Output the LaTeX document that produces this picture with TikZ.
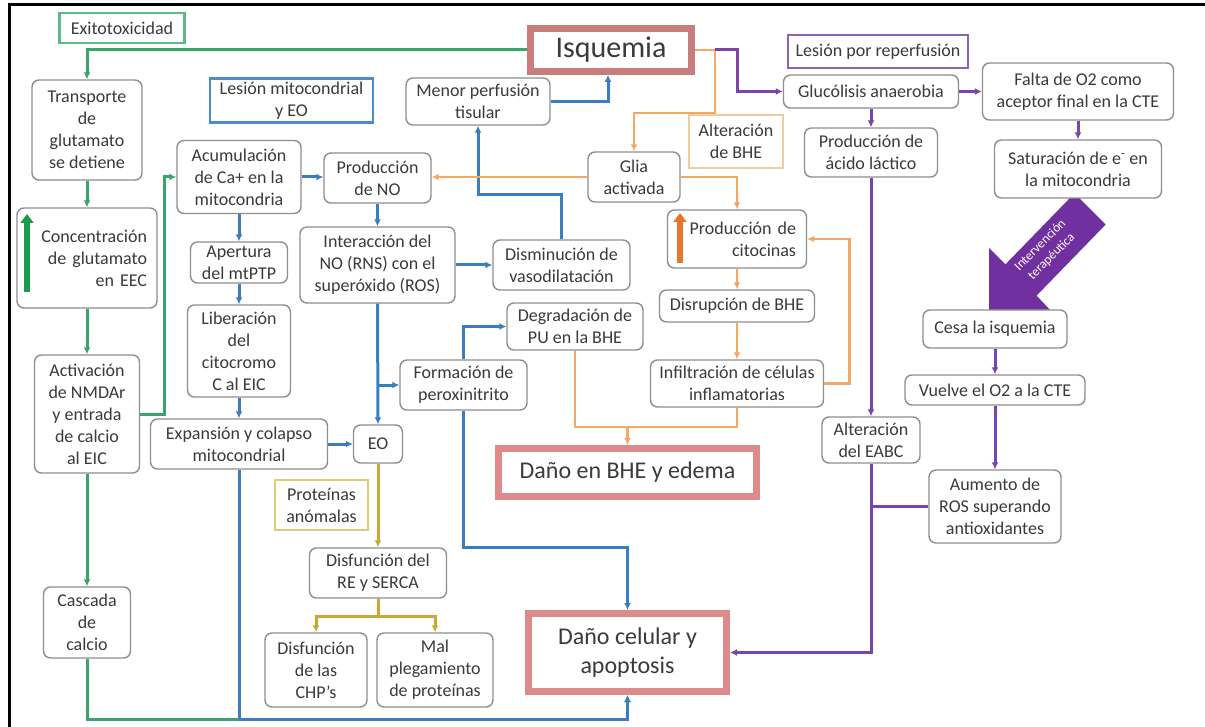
\documentclass[tikz,border=0pt]{standalone}
\usepackage{fontspec}
\setmainfont{Carlito}
\usetikzlibrary{arrows.meta,calc}
\definecolor{txt}{HTML}{3A3A3A}
\definecolor{boxgray}{HTML}{8E8E8E}
\definecolor{cgreen}{HTML}{3AA56B}
\definecolor{exgreen}{HTML}{5DBB8A}
\definecolor{cblue}{HTML}{3A7EC0}
\definecolor{lblue}{HTML}{4C8DC9}
\definecolor{corange}{HTML}{F3A865}
\definecolor{ltan}{HTML}{EDCBA3}
\definecolor{cpurple}{HTML}{7A45A8}
\definecolor{lpurple}{HTML}{8C63B5}
\definecolor{arrowpurple}{HTML}{7030A0}
\definecolor{cyellow}{HTML}{C9A935}
\definecolor{lyellow}{HTML}{DCCB78}
\definecolor{pinkb}{HTML}{DF8A8A}
\definecolor{isqred}{HTML}{C97C7C}
\definecolor{darkgreen}{HTML}{1F9A4C}
\definecolor{darkorange}{HTML}{E2782A}
\tikzset{
  gbox/.style={draw=boxgray, line width=1.4pt, rounded corners=7pt, fill=white, text=txt, align=center, font=\fontsize{18}{22}\selectfont, inner sep=1pt},
  lbox/.style={draw, line width=2.5pt, fill=white, text=txt, align=center, font=\fontsize{18}{22}\selectfont, inner sep=1pt},
  bigbox/.style={draw=pinkb, line width=7pt, fill=white, text=txt, align=center},
  tip/.style={-{Latex[length=7pt,width=7pt]}},
  gl/.style={draw=cgreen, line width=3pt},
  bl/.style={draw=cblue, line width=3pt},
  ol/.style={draw=corange, line width=2.6pt},
  pl/.style={draw=cpurple, line width=3pt},
  yl/.style={draw=cyellow, line width=3pt},
}
\begin{document}
\begin{tikzpicture}[x=1pt,y=-1pt]
\useasboundingbox (0,0) rectangle (1205,727);
\fill[white] (0,0) rectangle (1205,727);
\draw[line width=3pt, black] (9,727) -- (9,5) -- (1205,5);

% big intervention arrow
\fill[arrowpurple] (989,312) -- (989,248) -- (1005.4,264.4) -- (1074.4,193.4) -- (1105.6,224.6) -- (1036.6,295.6) -- (1052,312) -- cycle;
\node[rotate=45, text=white, align=center, font=\fontsize{13}{16}\selectfont] (interv) at (1046,251) {Intervención\\terapéutica};

% nodes
\node[lbox, draw=exgreen, minimum width=125pt, minimum height=30pt] (exito) at (122,28) {Exitotoxicidad};
\node[bigbox, draw=isqred, minimum width=161pt, minimum height=43pt, font=\fontsize{30}{34}\selectfont] (isq) at (611,50) {Isquemia};
\node[lbox, draw=lpurple, minimum width=180pt, minimum height=33pt] (lrep) at (878,51.5) {Lesión por reperfusión};
\node[gbox, minimum width=175pt, minimum height=33pt] (gluc) at (871,91.5) {Glucólisis anaerobia};
\node[gbox, minimum width=191pt, minimum height=57pt] (falta) at (1078,91.5) {Falta de O2 como\\aceptor final en la CTE};
\node[gbox, minimum width=167pt, minimum height=58pt] (satur) at (1078,169) {Saturación de e\textsuperscript{-} en\\la mitocondria};
\node[gbox, minimum width=110pt, minimum height=100pt] (transp) at (87,130) {Transporte\\de\\glutamato\\se detiene};
\node[gbox, minimum width=140pt, minimum height=100pt, text width=120pt, align=right] (conc) at (87,258) {Concentración\\de glutamato\\en EEC};
\node[gbox, minimum width=105pt, minimum height=118pt] (activ) at (87,414) {Activación\\de NMDAr\\y entrada\\de calcio\\al EIC};
\node[gbox, minimum width=87pt, minimum height=71pt] (casc) at (87,622.5) {Cascada\\de\\calcio};
\node[lbox, draw=lblue, minimum width=163pt, minimum height=44pt] (lmit) at (291.5,100.5) {Lesión mitocondrial\\y EO};
\node[gbox, minimum width=124pt, minimum height=73pt] (acum) at (239,177) {Acumulación\\de Ca+ en la\\mitocondria};
\node[gbox, minimum width=97pt, minimum height=41pt] (apert) at (239,262.5) {Apertura\\del mtPTP};
\node[gbox, minimum width=103pt, minimum height=92pt] (liber) at (239,351) {Liberación\\del\\citocromo\\C al EIC};
\node[gbox, minimum width=177pt, minimum height=50pt] (expan) at (239,444) {Expansión y colapso\\mitocondrial};
\node[gbox, minimum width=107pt, minimum height=50pt] (pno) at (377.5,178) {Producción\\de NO};
\node[gbox, minimum width=144pt, minimum height=47pt] (menor) at (478,101.5) {Menor perfusión\\tisular};
\node[gbox, minimum width=155pt, minimum height=76pt] (inter) at (377.5,265) {Interacción del\\NO (RNS) con el\\superóxido (ROS)};
\node[gbox, minimum width=137pt, minimum height=50pt] (dism) at (561.5,265) {Disminución de\\vasodilatación};
\node[gbox, minimum width=136pt, minimum height=47pt] (degr) at (575,326.5) {Degradación de\\PU en la BHE};
\node[gbox, minimum width=127pt, minimum height=50pt] (form) at (463.5,385) {Formación de\\peroxinitrito};
\node[gbox, minimum width=49pt, minimum height=38pt] (eo) at (378,444) {EO};
\node[lbox, draw=lyellow, minimum width=93pt, minimum height=50pt] (prot) at (321.5,505) {Proteínas\\anómalas};
\node[gbox, minimum width=137pt, minimum height=50pt] (rese) at (378,573) {Disfunción del\\RE y SERCA};
\node[gbox, minimum width=102pt, minimum height=74pt] (chp) at (316,670) {Disfunción\\de las\\CHP's};
\node[gbox, minimum width=116pt, minimum height=74pt] (mal) at (435,670) {Mal\\plegamiento\\de proteínas};
\node[bigbox, minimum width=258pt, minimum height=48pt, font=\fontsize{24}{29}\selectfont] (dbhe) at (627.5,472.5) {Daño en BHE y edema};
\node[bigbox, minimum width=198pt, minimum height=78pt, font=\fontsize{24}{29}\selectfont] (dcel) at (627.5,652.5) {Daño celular y\\apoptosis};
\node[gbox, minimum width=92pt, minimum height=50pt] (glia) at (634,177) {Glia\\activada};
\node[lbox, draw=ltan, minimum width=94pt, minimum height=53pt] (abhe) at (736,141.5) {Alteración\\de BHE};
\node[gbox, minimum width=139pt, minimum height=58pt, text width=118pt, align=right] (cito) at (737,239) {Producción de\\citocinas};
\node[gbox, minimum width=155pt, minimum height=32pt] (disr) at (737,306) {Disrupción de BHE};
\node[gbox, minimum width=173pt, minimum height=47pt] (infil) at (737,383.5) {Infiltración de células\\inflamatorias};
\node[gbox, minimum width=133pt, minimum height=49pt] (lact) at (871,152.5) {Producción de\\ácido láctico};
\node[gbox, minimum width=98pt, minimum height=46pt] (eabc) at (871,440) {Alteración\\del EABC};
\node[gbox, minimum width=144pt, minimum height=38pt] (cesa) at (995,329) {Cesa la isquemia};
\node[gbox, minimum width=180pt, minimum height=30pt] (vuel) at (995,390) {Vuelve el O2 a la CTE};
\node[gbox, minimum width=132pt, minimum height=73pt] (aum) at (995,506.5) {Aumento de\\ROS superando\\antioxidantes};

% up arrows inside boxes
\draw[line width=6pt, draw=darkgreen, -{Triangle[length=9pt,width=13pt]}] (27,292) -- (27,214);
\draw[line width=6pt, draw=darkorange, -{Triangle[length=9pt,width=13pt]}] (680,263) -- (680,213);

\coordinate (bot) at (0,719);
% green
\draw[gl,tip] (isq.west) -| (transp.north);
\draw[gl,tip] (transp.south) -- (conc.north);
\draw[gl,tip] (conc.south) -- (activ.north);
\draw[gl,tip] (activ.east) -- ++(24,0) |- (acum.west);
\draw[gl,tip] (activ.south) -- (casc.north);
\draw[gl,tip] (casc.south) -- (casc.south |- bot) -| (dcel.south);

% blue
\draw[bl,tip] (menor.east) -| ([xshift=-3pt]isq.south);
\draw[bl,tip] (dism.north) -- ++(0,-45) -| (menor.south);
\draw[bl,tip] (acum.east) -- (acum.east -| pno.west);
\draw[bl,tip] (acum.south) -- (apert.north);
\draw[bl,tip] (apert.south) -- (liber.north);
\draw[bl,tip] (liber.south) -- (expan.north);
\draw[bl,tip] (pno.south) -- (inter.north);
\draw[bl,tip] (inter.east) -- (dism.west);
\draw[bl,tip] (inter.south) -- (eo.north);
\draw[bl,tip] (inter.south |- form.west) -- (form.west);
\draw[bl,tip] (expan.east) -- (eo.west);
\draw[bl,tip] (form.north) |- (degr.west);
\draw[bl,tip] (form.south) -- ++(0,137) -| (dcel.north);
\draw[bl,tip] (expan.south) -- (expan.south |- bot) -| (dcel.south);

% orange
\draw[ol] (isq.east) -- ++(20,0) coordinate (o1);
\draw[ol,tip] (o1) -- ++(0,63) -| (glia.north);
\draw[ol,tip] (glia.east) -| (cito.north);
\draw[ol,tip] (glia.west) -- (glia.west -| pno.east);
\draw[ol,tip] (cito.south) -- (disr.north);
\draw[ol,tip] (disr.south) -- (infil.north);
\draw[ol,tip] (infil.east) -- ++(25,0) |- (cito.east);
\coordinate (oj) at (627.5,427);
\draw[ol,tip] (infil.south) |- (oj) -- (dbhe.north);
\draw[ol] (degr.south) |- (oj);

% purple
\draw[pl,tip] (o1) -- ++(22,0) |- (gluc.west);
\draw[pl,tip] (gluc.east) -- (falta.west);
\draw[pl,tip] (falta.south) -- (satur.north);
\draw[pl,tip] (gluc.south) -- (lact.north);
\draw[pl,tip] (lact.south) -- (eabc.north);
\draw[pl,tip] (eabc.south) |- (dcel.east);
\draw[pl] (aum.west) -- (aum.west -| eabc.south);
\draw[pl,tip] (cesa.south) -- (vuel.north);
\draw[pl,tip] (vuel.south) -- (aum.north);

% yellow
\draw[yl,tip] (eo.south) -- (rese.north);
\draw[yl,tip] (rese.south) -- ++(0,18) -| (chp.north);
\draw[yl,tip] (rese.south) -- ++(0,18) -| (mal.north);
\end{tikzpicture}
\end{document}
